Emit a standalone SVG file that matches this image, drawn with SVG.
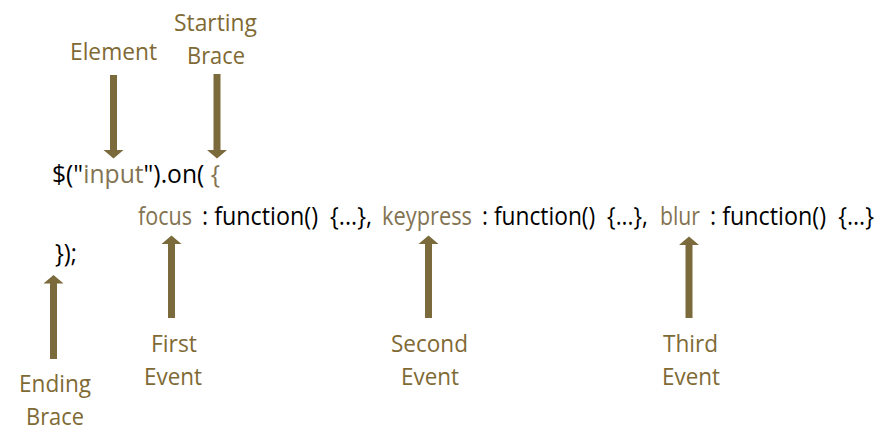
<svg xmlns="http://www.w3.org/2000/svg" width="890" height="448" viewBox="0 0 890 448">
<style>
.lbl{font-family:"Open Sans","Liberation Sans",sans-serif;font-size:24px;fill:#7F6A35;text-anchor:middle}
.code{font-family:"Open Sans","Liberation Sans",sans-serif;font-size:25px;fill:#000;white-space:pre}
.hl{fill:#837352}
.arr{fill:#7A6A3C}
</style>
<rect width="890" height="448" fill="#fff"/>
<g id="code">
<text class="code" x="52" y="183" textLength="168" lengthAdjust="spacingAndGlyphs">$("<tspan class="hl">input</tspan>").on( <tspan class="hl">{</tspan></text>
<text class="code hl" x="138" y="225" textLength="54" lengthAdjust="spacingAndGlyphs">focus</text>
<text class="code" x="202" y="225" textLength="170" lengthAdjust="spacingAndGlyphs" xml:space="preserve">: function()  {...},</text>
<text class="code hl" x="382" y="225" textLength="90" lengthAdjust="spacingAndGlyphs">keypress</text>
<text class="code" x="482" y="225" textLength="166" lengthAdjust="spacingAndGlyphs" xml:space="preserve">: function()  {...},</text>
<text class="code hl" x="660" y="225" textLength="40" lengthAdjust="spacingAndGlyphs">blur</text>
<text class="code" x="710" y="225" textLength="164" lengthAdjust="spacingAndGlyphs" xml:space="preserve">: function()  {...}</text>
<text class="code" x="55" y="262" textLength="22" lengthAdjust="spacingAndGlyphs">});</text>
</g>
<g id="connectors">
<path class="arr" d="M110,75 h7 v75 h6.5 l-10,8.5 l-10,-8.5 h6.5 z"/>
<path class="arr" d="M213.5,74 h7 v76 h6.5 l-10,8.5 l-10,-8.5 h6.5 z"/>
<path class="arr" d="M50,359 h7 v-75.5 h6.5 l-10,-8.5 l-10,8.5 h6.5 z"/>
<path class="arr" d="M168,318 h7 v-74 h6.5 l-10,-8.5 l-10,8.5 h6.5 z"/>
<path class="arr" d="M425,318 h7 v-74 h6.5 l-10,-8.5 l-10,8.5 h6.5 z"/>
<path class="arr" d="M685.5,318 h7 v-73 h6.5 l-10,-8.5 l-10,8.5 h6.5 z"/>
</g>
<g id="element"><text class="lbl" x="113.5" y="60" textLength="87" lengthAdjust="spacingAndGlyphs">Element</text></g>
<g id="starting-brace">
<text class="lbl" x="215.5" y="31" textLength="83" lengthAdjust="spacingAndGlyphs">Starting</text>
<text class="lbl" x="216" y="64" textLength="58" lengthAdjust="spacingAndGlyphs">Brace</text>
</g>
<g id="ending-brace">
<text class="lbl" x="55" y="392" textLength="72" lengthAdjust="spacingAndGlyphs">Ending</text>
<text class="lbl" x="55" y="425" textLength="58" lengthAdjust="spacingAndGlyphs">Brace</text>
</g>
<g id="first-event">
<text class="lbl" x="174" y="352" textLength="46" lengthAdjust="spacingAndGlyphs">First</text>
<text class="lbl" x="173" y="385" textLength="58" lengthAdjust="spacingAndGlyphs">Event</text>
</g>
<g id="second-event">
<text class="lbl" x="429.5" y="352" textLength="77" lengthAdjust="spacingAndGlyphs">Second</text>
<text class="lbl" x="430" y="385" textLength="58" lengthAdjust="spacingAndGlyphs">Event</text>
</g>
<g id="third-event">
<text class="lbl" x="690.5" y="352" textLength="55" lengthAdjust="spacingAndGlyphs">Third</text>
<text class="lbl" x="691" y="385" textLength="58" lengthAdjust="spacingAndGlyphs">Event</text>
</g>
</svg>
